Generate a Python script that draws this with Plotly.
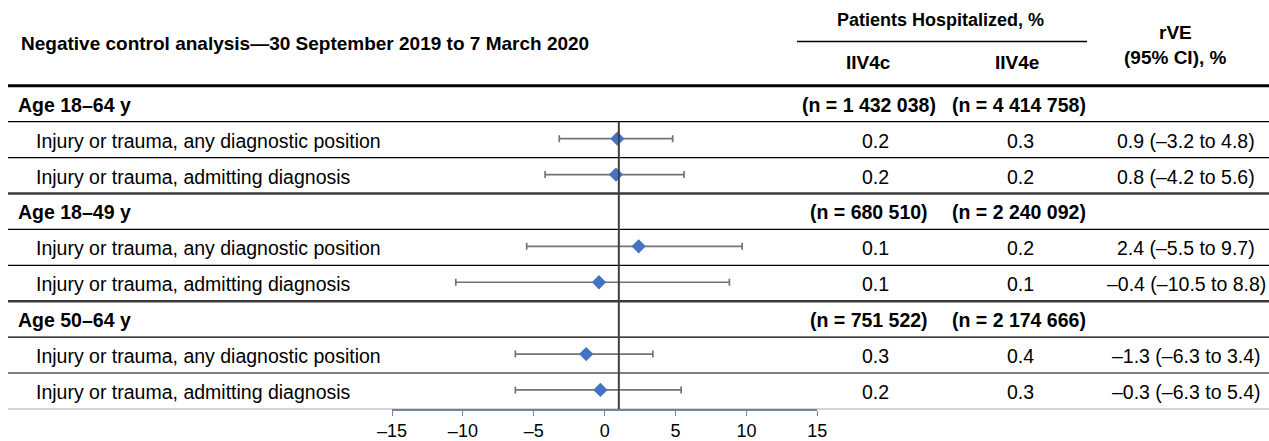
import plotly.graph_objects as go

# ---- data -------------------------------------------------------------
groups = ["Age 18–64 y", "Age 18–49 y", "Age 50–64 y"]
n_iiv4c = ["1 432 038", "680 510", "751 522"]
n_iiv4e = ["4 414 758", "2 240 092", "2 174 666"]
outcomes = ["Injury or trauma, any diagnostic position",
            "Injury or trauma, admitting diagnosis"]

pct_iiv4c = [0.2, 0.2, 0.1, 0.1, 0.3, 0.2]
pct_iiv4e = [0.3, 0.2, 0.2, 0.1, 0.4, 0.3]
rve = [0.9, 0.8, 2.4, -0.4, -1.3, -0.3]
ci_low = [-3.2, -4.2, -5.5, -10.5, -6.3, -6.3]
ci_high = [4.8, 5.6, 9.7, 8.8, 3.4, 5.4]

tick_vals = [-15, -10, -5, 0, 5, 10, 15]
ref_line = 1

# ---- layout constants (pixel space) -----------------------------------
W, H = 1269, 441
FONT = "Liberation Sans, Arial, sans-serif"
BODY = 19.5
HEAD = 19
TABLE_TOP = 85.8
ROW_H = 35.9
AXIS_Y = 409
X_LEFT = 8
COL_C = 869
COL_E = 1019
COL_VAL_C = 875
COL_VAL_E = 1020
COL_RVE = 1186


def px(x):
    return x / W


def py(y):
    return 1 - y / H


def fmt(v):
    s = f"{v:.1f}"
    return s.replace("-", "–")


def row_mid(i):
    return TABLE_TOP + ROW_H * (i + 0.5)


annotations = []
shapes = []


def text(x, y, s, bold=False, size=BODY, xanchor="center"):
    if bold:
        s = f"<b>{s}</b>"
    annotations.append(dict(
        x=px(x), y=py(y), xref="paper", yref="paper", text=s,
        showarrow=False, xanchor=xanchor, yanchor="middle",
        borderpad=0, font=dict(family=FONT, size=size, color="#000000")))


def hline(y, x0=X_LEFT, x1=W, width=1.2, color="#000000"):
    shapes.append(dict(type="line", xref="paper", yref="paper",
                       x0=px(x0), x1=px(x1), y0=py(y), y1=py(y),
                       line=dict(color=color, width=width), layer="below"))


# header
text(20, 43, "Negative control analysis—30 September 2019 to 7 March 2020",
     bold=True, size=HEAD, xanchor="left")
text(940, 20, "Patients Hospitalized, %", bold=True, size=18)
hline(41.5, 797, 1087, width=1.5)
text(868, 63, "IIV4c", bold=True, size=HEAD)
text(1017, 63, "IIV4e", bold=True, size=HEAD)
text(1175, 33, "rVE", bold=True, size=HEAD)
text(1175, 57, "(95% CI), %", bold=True, size=HEAD)
hline(TABLE_TOP, width=3)

# table body
point_y = []
k = 0
for g, name in enumerate(groups):
    r = g * 3
    y = row_mid(r)
    text(17, y + 1, name, bold=True, xanchor="left")
    text(COL_C, y + 1, f"(n = {n_iiv4c[g]})", bold=True)
    text(COL_E, y + 1, f"(n = {n_iiv4e[g]})", bold=True)
    if g > 0:
        hline(TABLE_TOP + ROW_H * r, width=2.5, color="#3a3a3a")
    hline(TABLE_TOP + ROW_H * (r + 1))
    for j, outcome in enumerate(outcomes):
        rr = r + 1 + j
        y = row_mid(rr)
        text(35, y + 1, outcome, xanchor="left")
        text(COL_VAL_C, y + 1, fmt(pct_iiv4c[k]))
        text(COL_VAL_E, y + 1, fmt(pct_iiv4e[k]))
        text(COL_RVE, y + 1,
             f"{fmt(rve[k])} ({fmt(ci_low[k])} to {fmt(ci_high[k])})")
        if j == 0:
            hline(TABLE_TOP + ROW_H * (rr + 1))
        point_y.append(y - 1)
        k += 1

# bottom rule
hline(AXIS_Y, width=1.5, color="#c9c9c9")

# reference line in the forest panel
shapes.append(dict(type="line", xref="x", yref="paper",
                   x0=ref_line, x1=ref_line,
                   y0=py(TABLE_TOP + ROW_H), y1=py(AXIS_Y),
                   line=dict(color="#3f3f3f", width=2), layer="above"))

err_plus = [h - v for h, v in zip(ci_high, rve)]
err_minus = [v - l for v, l in zip(rve, ci_low)]

fig = go.Figure()
fig.add_trace(go.Scatter(
    x=rve, y=point_y, mode="markers",
    marker=dict(symbol="diamond", size=11, color="#4472C4",
                line=dict(width=0)),
    error_x=dict(type="data", symmetric=False, array=err_plus,
                 arrayminus=err_minus, color="#737373",
                 thickness=1.7, width=3.5),
    showlegend=False, hoverinfo="skip"))

fig.update_layout(
    template="none",
    autosize=False,
    width=W, height=H,
    margin=dict(l=0, r=0, t=0, b=0, pad=0, autoexpand=False),
    paper_bgcolor="white", plot_bgcolor="rgba(0,0,0,0)",
    xaxis=dict(domain=[392 / W, 817.3 / W], range=[-15, 15],
               tickvals=tick_vals,
               ticktext=[fmt(v).replace(".0", "") for v in tick_vals],
               ticks="outside", ticklen=5, tickwidth=1.2,
               tickcolor="#74849c", showline=True, linecolor="#74849c",
               linewidth=1.5, showgrid=False, zeroline=False,
               automargin=False,
               tickfont=dict(family=FONT, size=18, color="#000000"),
               fixedrange=True),
    yaxis=dict(domain=[(H - AXIS_Y) / H, 1], range=[AXIS_Y, 0],
               visible=False, automargin=False, fixedrange=True),
    annotations=annotations, shapes=shapes,
)

fig.write_html("out.html")
